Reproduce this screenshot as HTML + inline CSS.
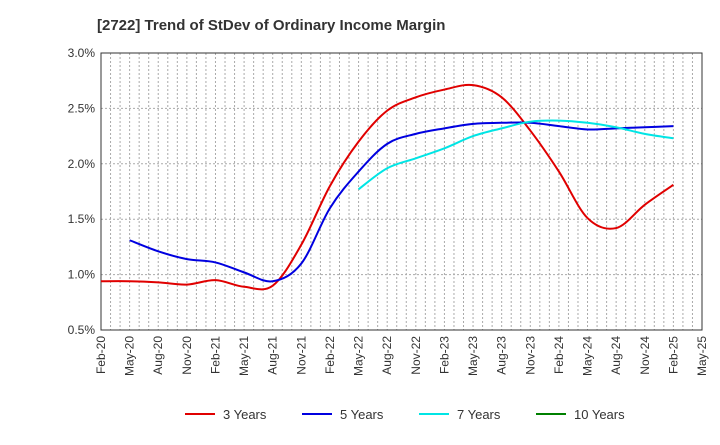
<!DOCTYPE html>
<html><head><meta charset="utf-8"><style>
body{margin:0;background:#fff;font-family:"Liberation Sans",sans-serif}
</style></head><body>
<svg id="c" width="720" height="440" xmlns="http://www.w3.org/2000/svg">
<text x="97" y="30" font-size="15" font-weight="bold" fill="#333">[2722]  Trend of StDev of Ordinary Income Margin</text>
<g id="grid"></g><g id="axes"></g><g id="series"></g><g id="legend"></g>
</svg>
<script>
const xLabels=["Feb-20","May-20","Aug-20","Nov-20","Feb-21","May-21","Aug-21","Nov-21","Feb-22","May-22","Aug-22","Nov-22","Feb-23","May-23","Aug-23","Nov-23","Feb-24","May-24","Aug-24","Nov-24","Feb-25","May-25"];
const yTicks=[0.5,1.0,1.5,2.0,2.5,3.0];
const s3=[0.94,0.94,0.93,0.91,0.95,0.89,0.90,1.27,1.80,2.20,2.48,2.60,2.67,2.71,2.60,2.30,1.93,1.51,1.42,1.63,1.81];
const s5=[null,1.31,1.21,1.14,1.11,1.02,0.94,1.10,1.60,1.93,2.18,2.27,2.32,2.36,2.37,2.37,2.34,2.31,2.32,2.33,2.34];
const s7=[null,null,null,null,null,null,null,null,null,1.77,1.96,2.05,2.14,2.25,2.32,2.38,2.39,2.37,2.33,2.27,2.23];
const s10=[];
const L=101,R=702,T=53,B=330;
const NS="http://www.w3.org/2000/svg";
const xs=i=>L+(R-L)*i/(xLabels.length-1);
const ys=v=>B-(v-0.5)/2.5*(B-T);
function mk(t,a,p){const e=document.createElementNS(NS,t);for(const k in a)e.setAttribute(k,a[k]);p.appendChild(e);return e;}
const G=document.getElementById('grid'),A=document.getElementById('axes'),S=document.getElementById('series'),LG=document.getElementById('legend');
for(let m=1;m<63;m++){const x=L+(R-L)*m/63;const l=mk('line',{x1:x,x2:x,y1:T,y2:B,stroke:'#aaa','stroke-dasharray':'2,2'},G);

}
yTicks.forEach(v=>{const y=ys(v);const l=mk('line',{x1:L,x2:R,y1:y,y2:y,stroke:'#aaa','stroke-dasharray':'2,2'},G);


const t=mk('text',{x:L-6,y:y+4,'text-anchor':'end','font-size':'12',fill:'#333'},A);t.textContent=v.toFixed(1)+'%';

});
mk('rect',{x:L,y:T,width:R-L,height:B-T,fill:'none',stroke:'#333'},A);
xLabels.forEach((lb,i)=>{const x=xs(i);const t=mk('text',{x:x+4,y:B+6,'text-anchor':'end','font-size':'12',fill:'#333',transform:`rotate(-90 ${x+4} ${B+6})`},A);t.textContent=lb;

});
function path(arr,color,name){const p=[];arr.forEach((v,i)=>{if(v!=null)p.push([xs(i),ys(v)]);});if(p.length<2)return;
let d=`M${p[0][0]},${p[0][1]}`;for(let i=0;i<p.length-1;i++){const p0=p[i-1]||p[i],p1=p[i],p2=p[i+1],p3=p[i+2]||p2;
d+=` C${p1[0]+(p2[0]-p0[0])/6},${p1[1]+(p2[1]-p0[1])/6} ${p2[0]-(p3[0]-p1[0])/6},${p2[1]-(p3[1]-p1[1])/6} ${p2[0]},${p2[1]}`;}
const e=mk('path',{d:d,fill:'none',stroke:color,'stroke-width':2},S);

}
path(s3,'#e00000','series-3-years');path(s5,'#0000e0','series-5-years');path(s7,'#00e5e5','series-7-years');path(s10,'#008000','series-10-years');
[['3 Years','#e00000',185],['5 Years','#0000e0',302],['7 Years','#00e5e5',419],['10 Years','#008000',536]].forEach(([n,c,x])=>{
const g=mk('g',{},LG);


mk('line',{x1:x,x2:x+30,y1:414,y2:414,stroke:c,'stroke-width':2},g);
const t=mk('text',{x:x+38,y:419,'font-size':'13',fill:'#333'},g);t.textContent=n;});
</script>
</body></html>
